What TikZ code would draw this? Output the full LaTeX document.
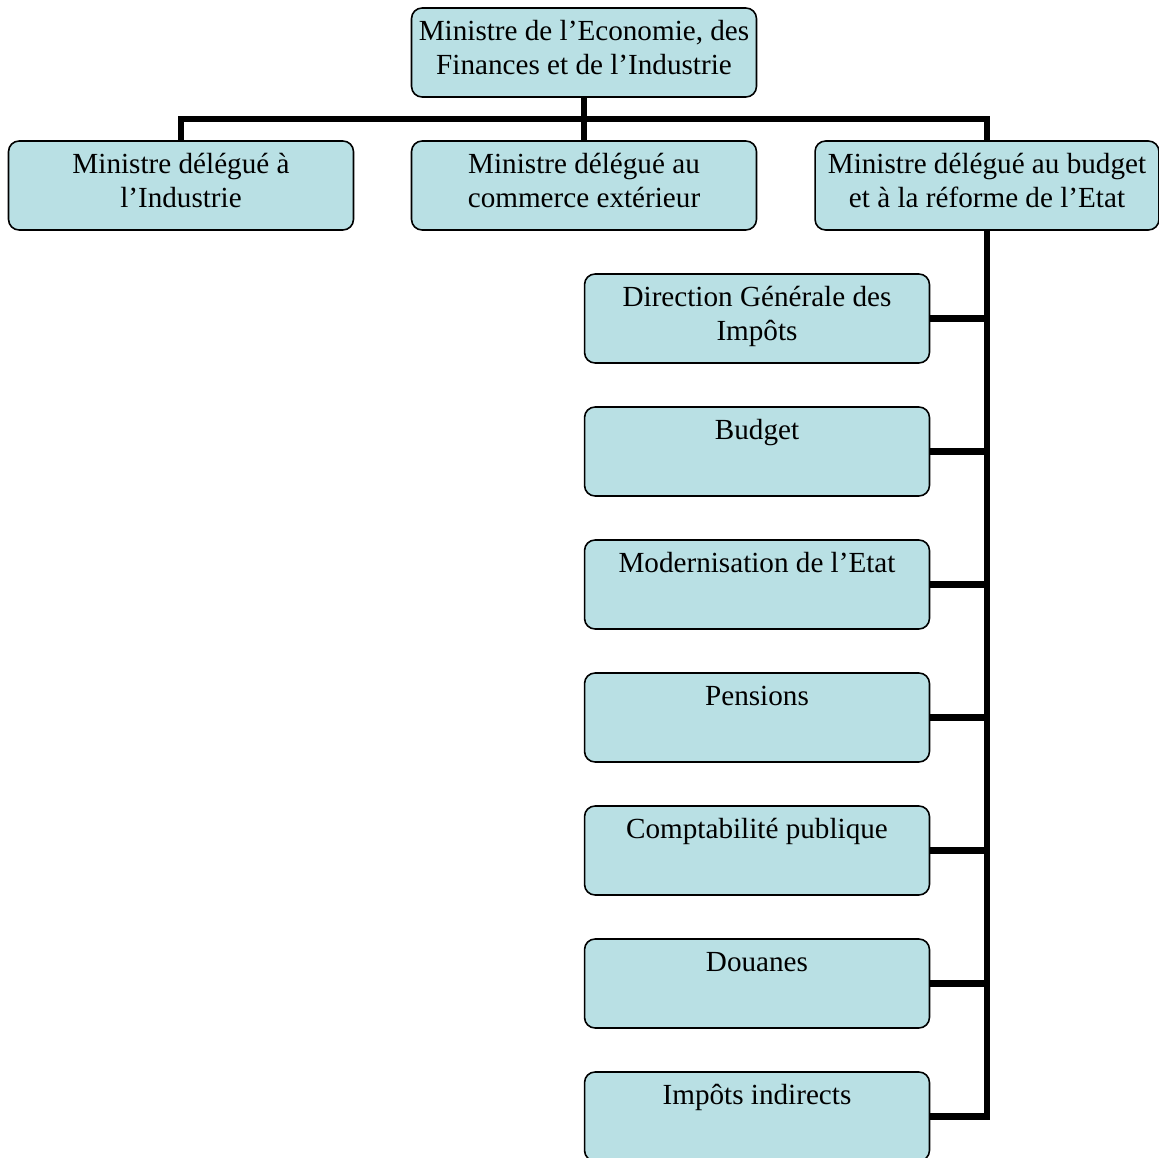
\documentclass[tikz,border=0pt]{standalone}
\usepackage{fontspec}
\setmainfont{Liberation Serif}
\definecolor{boxfill}{RGB}{185,224,228}
\begin{document}
\begin{tikzpicture}[x=0.02cm,y=-0.02cm]
	\tikzset{box/.style={draw=black,line width=0.9pt,fill=boxfill,rounded corners=6pt,
			minimum width=6.9cm,minimum height=1.78cm,align=center,inner sep=2pt,
			font=\fontsize{16.6}{19.3}\selectfont},
		link/.style={line width=3.5pt}
	}
	\useasboundingbox (0,0) rectangle (1159,1158);
	\node[box] (top) at (584,52.5) {Ministre de l’Economie, des\\Finances et de l’Industrie\strut};
	\node[box] (ind) at (181,185.5) {Ministre délégué à\\l’Industrie\strut};
	\node[box] (com) at (584,185.5) {Ministre délégué au\\commerce extérieur\strut};
	\node[box,minimum width=6.88cm] (bud) at (987,185.5) {Ministre délégué au budget\\et à la réforme de l’Etat\strut};
	\coordinate (bus) at (584,119);
	\draw[link] (top) -- (bus);
	\draw[link] (bus) -- (com);
	\draw[link] (ind.north) |- (bus) -| (bud.north);
	% services
	\foreach \name [count=\i] in {{Direction Générale des\\Impôts\strut},{Budget\\\strut},
			{Modernisation de l’Etat\\\strut},{Pensions\\\strut},{Comptabilité publique\\\strut},
			{Douanes\\\strut},{Impôts indirects\\\strut}}{
		\node[box] (s\i) at (757,{318.5+133*(\i-1)}) {\name};
		\draw[link] (s\i.east) -- (s\i.east -| bud.south);
	}
	\draw[link] (bud.south) |- (s7.east);
\end{tikzpicture}
\end{document}
